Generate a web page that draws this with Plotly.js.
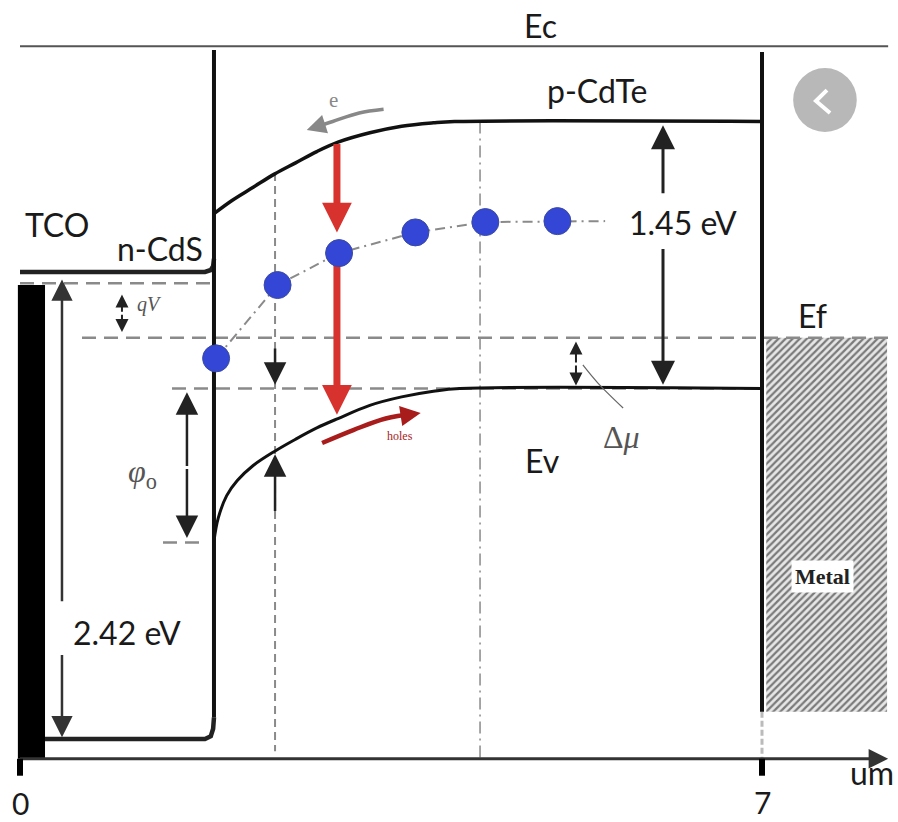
<!DOCTYPE html>
<html><head><meta charset="utf-8">
<script src="https://cdn.plot.ly/plotly-3.0.1.min.js"></script>
<style>html,body{margin:0;padding:0;background:#fff}#chart{width:898px;height:822px}</style>
</head><body><div id="chart"></div>
<script>
// x: position in micrometres, y: energy in eV (0 = CdS valence band edge)
const ecTop = 3.69;            // top reference line "Ec"
const efLevel = 2.14;          // Fermi level Ef
const quasiLevel = 2.43;       // quasi-Fermi level under TCO
const cdteVb = 1.87;           // flat CdTe valence band
const cdteCb = 3.29;           // flat CdTe conduction band
const phiBottom = 1.05;        // bottom of phi_o barrier
const axisY = -0.10;           // distance axis
const xInterface = 1.83;       // n-CdS / p-CdTe interface
const xBack = 7.0;             // back contact

const cdteEcX = [1.83, 2.0, 2.2, 2.4, 2.6, 2.8, 3.0, 3.3, 3.6, 3.9, 4.1, 7.0];
const cdteEcY = [2.80, 2.87, 2.94, 3.01, 3.07, 3.13, 3.18, 3.23, 3.265, 3.283, 3.29, 3.29];
const cdteEvX = [1.83, 1.87, 1.95, 2.05, 2.2, 2.4, 2.6, 2.8, 3.0, 3.3, 3.6, 3.9, 4.15, 7.0];
const cdteEvY = [1.06, 1.18, 1.30, 1.38, 1.46, 1.535, 1.60, 1.66, 1.71, 1.78, 1.825, 1.855, 1.87, 1.87];
const cdsEcX = [0, 1.745, 1.80, 1.822, 1.83];
const cdsEcY = [2.49, 2.49, 2.50, 2.52, 2.56];
const cdsEvX = [0.236, 1.745, 1.80, 1.822, 1.83];
const cdsEvY = [0.005, 0.005, 0.02, 0.06, 0.12];

const dotX = [1.85, 2.43, 3.01, 3.73, 4.39, 5.07];
const dotY = [2.03, 2.42, 2.59, 2.70, 2.755, 2.76];
const dotLineEndX = 5.52;

const holesX = [2.85, 3.15, 3.45, 3.72];
const holesY = [1.58, 1.65, 1.71, 1.735];
const elecX = [3.43, 3.20, 2.95, 2.80];
const elecY = [3.355, 3.335, 3.29, 3.262];

const metalX = [7.04, 8.18];
const metalY = [0.15, 2.14];
const tcoBarX = [-0.02, 0.236];
const tcoBarY = [axisY, 2.42];

const tickX = [0, 7];
const tickText = ['0', '7'];

const BLACK = '#111', GRAY = '#8a8a8a', RED = '#d8322e', DRED = '#a81c1c';
const SANS = 'Lato, "Open Sans", sans-serif';
const SERIF = '"Liberation Serif", "DejaVu Serif", serif';

function line(x, y, color, width, dash, shape) {
  return {x, y, type: 'scatter', mode: 'lines', hoverinfo: 'skip',
    line: {color, width, dash: dash || 'solid', shape: shape || 'linear'}};
}

const traces = [];
// top Ec line
traces.push(line([0, 8.19], [ecTop, ecTop], '#555', 2));
// metal hatched region
traces.push({x: [metalX[0], metalX[1], metalX[1], metalX[0], metalX[0]],
  y: [metalY[0], metalY[0], metalY[1], metalY[1], metalY[0]], type: 'scatter', mode: 'none',
  fill: 'toself', fillcolor: '#d8d8d8', hoverinfo: 'skip',
  fillpattern: {shape: '/', fgcolor: '#7a7a7a', bgcolor: '#e6e6e6', size: 5, solidity: 0.45}});
// TCO black bar
traces.push({x: [tcoBarX[0], tcoBarX[1], tcoBarX[1], tcoBarX[0], tcoBarX[0]],
  y: [tcoBarY[0], tcoBarY[0], tcoBarY[1], tcoBarY[1], tcoBarY[0]], type: 'scatter', mode: 'none',
  fill: 'toself', fillcolor: '#000', hoverinfo: 'skip'});
// dashed levels
traces.push(line([0, xInterface], [quasiLevel, quasiLevel], GRAY, 2.5, '14px,8px'));
traces.push(line([0.585, 8.19], [efLevel, efLevel], GRAY, 2.5, '14px,8px'));
traces.push(line([1.434, xBack], [cdteVb, cdteVb], GRAY, 2.5, '14px,8px'));
traces.push(line([1.349, 1.745], [phiBottom, phiBottom], GRAY, 2.5, '14px,8px'));
// vertical guide lines
traces.push(line([2.406, 2.406], [3.016, -0.06], GRAY, 2, '8px,5px'));
traces.push(line([4.34, 4.34], [cdteCb, axisY], GRAY, 1.5, '12px,5px,2px,5px'));
traces.push(line([xBack, xBack], [0.15, axisY], '#bbb', 3, '6px,3px'));
// bands
traces.push(line(cdsEcX, cdsEcY, '#222', 4.5));
traces.push(line(cdsEvX, cdsEvY, '#222', 4.5));
traces.push(line(cdteEcX, cdteEcY, BLACK, 3.5, 'solid', 'spline'));
traces.push(line(cdteEvX, cdteEvY, BLACK, 3, 'solid', 'spline'));
traces.push(line([xInterface, xInterface], [0.12, 3.67], BLACK, 4));
traces.push(line([xBack, xBack], [0.15, 3.66], BLACK, 4));
// axis
traces.push(line([0, 8.13], [axisY, axisY], '#333', 3));
traces.push(line([tickX[0], tickX[0]], [axisY, -0.19], '#000', 6));
traces.push(line([tickX[1], tickX[1]], [axisY, -0.19], '#000', 6));
// dots connecting dash-dot line
traces.push(line(dotX.concat([dotLineEndX]), dotY.concat([dotY[dotY.length - 1]]), GRAY, 2, '10px,5px,2px,5px'));
// red vertical arrow shafts
traces.push(line([2.99, 2.99], [3.17, 2.80], RED, 7));
traces.push(line([2.99, 2.99], [2.55, 1.84], RED, 7));
// blue dots
traces.push({x: dotX, y: dotY, type: 'scatter', mode: 'markers', hoverinfo: 'skip',
  marker: {size: 27, color: '#3446d6', line: {color: '#3a4aa0', width: 1}}});
// holes and electron arrows bodies
traces.push(line(holesX, holesY, DRED, 4.5, 'solid', 'spline'));
traces.push(line(elecX, elecY, '#888', 3.5, 'solid', 'spline'));
// Delta mu leader
traces.push(line([5.31, 5.45, 5.69], [1.995, 1.90, 1.766], '#666', 1.2, 'solid', 'spline'));
// chevron on the gray button
traces.push(line([7.613, 7.509, 7.642], [3.457, 3.399, 3.335], '#fff', 4));

function arrow(x, y, ax, ay, color, width, size) {
  return {x, y, ax, ay, xref: 'x', yref: 'y', axref: 'x', ayref: 'y', text: '',
    showarrow: true, arrowhead: 2, arrowsize: size, arrowwidth: width, arrowcolor: color};
}
function label(x, y, text, size, color, family, extra) {
  return Object.assign({x, y, xref: 'x', yref: 'y', text, showarrow: false,
    font: {size, color, family}}, extra || {});
}

const annotations = [
  // 2.42 eV
  arrow(0.396, 2.45, 0.396, 0.73, '#333', 2.5, 1.7),
  arrow(0.396, 0.015, 0.396, 0.46, '#333', 2.5, 1.7),
  // 1.45 eV
  arrow(6.066, 3.27, 6.066, 2.90, '#222', 3, 1.6),
  arrow(6.066, 1.89, 6.066, 2.62, '#222', 3, 1.6),
  // phi_o
  arrow(1.575, 1.85, 1.575, 1.45, '#222', 2.5, 1.8),
  arrow(1.575, 1.075, 1.575, 1.45, '#222', 2.5, 1.8),
  // qV
  arrow(0.962, 2.37, 0.962, 2.27, '#222', 2, 1.3),
  arrow(0.962, 2.17, 0.962, 2.27, '#222', 2, 1.3),
  // delta mu
  arrow(5.245, 2.12, 5.245, 2.0, '#222', 2, 1.3),
  arrow(5.245, 1.885, 5.245, 2.0, '#222', 2, 1.3),
  // arrows at x = 2.406
  arrow(2.406, 1.89, 2.406, 2.09, '#222', 2.5, 1.8),
  arrow(2.406, 1.52, 2.406, 1.21, '#222', 2.5, 1.8),
  // red arrows heads
  arrow(2.99, 2.70, 2.99, 2.82, RED, 7, 0.85),
  arrow(2.99, 1.73, 2.99, 1.86, RED, 7, 0.85),
  // holes / electron heads
  arrow(3.78, 1.74, 3.70, 1.733, DRED, 4.5, 0.9),
  arrow(2.705, 3.245, 2.81, 3.264, '#888', 3.5, 1.1),
  // axis arrow head
  arrow(8.19, axisY, 8.10, axisY, '#333', 3, 1.3),
  // labels
  label(4.906, 3.80, 'Ec', 32, '#1a1a1a', SANS),
  label(5.443, 3.455, 'p-CdTe', 32, '#1a1a1a', SANS),
  label(0.349, 2.74, 'TCO', 32, '#1a1a1a', SANS),
  label(1.321, 2.615, 'n-CdS', 32, '#1a1a1a', SANS),
  label(6.255, 2.755, '1.45 eV', 32, '#1a1a1a', SANS),
  label(1.009, 0.574, '2.42 eV', 32, '#1a1a1a', SANS),
  label(7.481, 2.26, 'Ef', 32, '#1a1a1a', SANS),
  label(4.925, 1.489, 'Ev', 32, '#1a1a1a', SANS),
  label(5.679, 1.61, 'Δ<i>μ</i>', 32, '#555', SERIF),
  label(1.151, 1.42, '<i>φ</i><sub>o</sub>', 32, '#555', SERIF),
  label(1.217, 2.314, '<i>qV</i>', 20, '#555', SERIF),
  label(2.953, 3.404, 'e', 21, '#888', SERIF),
  label(3.585, 1.617, 'holes', 12, DRED, SERIF),
  label(7.575, 0.872, '<b>Metal</b>', 22, '#222', SERIF, {bgcolor: '#fff', borderpad: 3}),
  label(tickX[0], -0.335, tickText[0], 30, '#1a1a1a', SANS),
  label(tickX[1], -0.33, tickText[1], 30, '#1a1a1a', SANS),
  label(8.04, -0.175, 'um', 32, '#1a1a1a', SANS)
];

const shapes = [
  {type: 'circle', xref: 'x', yref: 'y', x0: 7.594 - 0.30, x1: 7.594 + 0.30,
    y0: 3.404 - 0.17, y1: 3.404 + 0.17, fillcolor: '#b8b8b8', line: {width: 0}, layer: 'below'}
];

const layout = {
  width: 898, height: 822, margin: {l: 0, r: 0, t: 0, b: 0},
  paper_bgcolor: '#fff', plot_bgcolor: '#fff', showlegend: false,
  xaxis: {range: [-20 / 106, 878 / 106], visible: false, fixedrange: true},
  yaxis: {range: [-82 / 188, 740 / 188], visible: false, fixedrange: true},
  annotations, shapes
};

Plotly.newPlot('chart', traces, layout, {displayModeBar: false, staticPlot: true});
</script></body></html>
